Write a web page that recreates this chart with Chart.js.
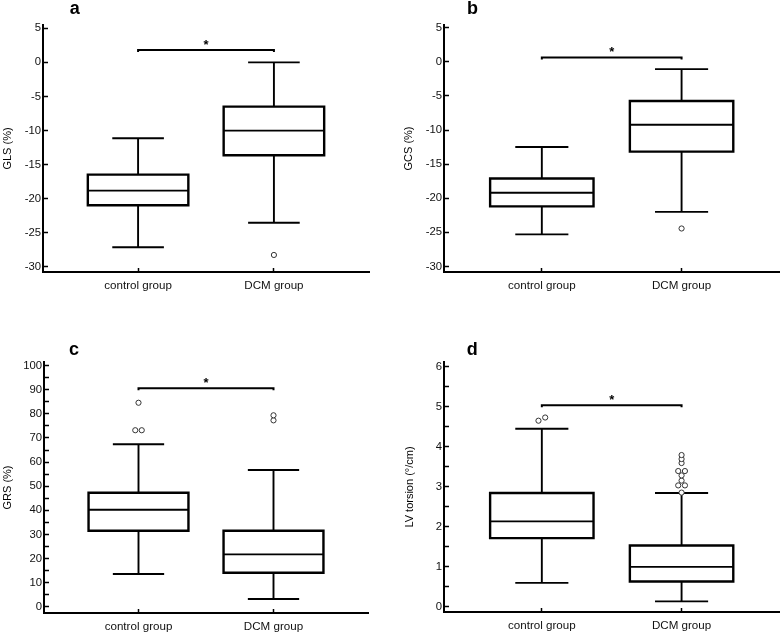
<!DOCTYPE html>
<html>
<head>
<meta charset="utf-8">
<script src="https://cdn.jsdelivr.net/npm/chart.js@4.4.1/dist/chart.umd.min.js"></script>
<style>
body { margin: 0; background: #fff; }
#wrap { position: relative; width: 783px; height: 634px; }
canvas { position: absolute; }
</style>
</head>
<body>
<div id="wrap">
  <canvas id="chartA" width="390" height="310" style="left:0;top:0"></canvas>
  <canvas id="chartB" width="393" height="310" style="left:390px;top:0"></canvas>
  <canvas id="chartC" width="390" height="324" style="left:0;top:310px"></canvas>
  <canvas id="chartD" width="393" height="324" style="left:390px;top:310px"></canvas>
</div>
<script>
"use strict"
const groups = ["control group", "DCM group"];

// box stats: [lower whisker, Q1, median, Q3, upper whisker]
const glsControl = [-27.15, -20.99, -18.84, -16.49, -11.15];
const glsDcm = [-23.54, -13.65, -10.03, -6.51, 0];
const glsOutControl = [];
const glsOutDcm = [-28.28];
const glsBracket = 1.81;
const glsTicks = [-30, -25, -20, -15, -10, -5, 0, 5];
const glsLabels = glsTicks;

const gcsControl = [-25.3, -21.2, -19.2, -17.12, -12.48];
const gcsDcm = [-22.0, -13.17, -9.22, -5.75, -1.07];
const gcsOutControl = [];
const gcsOutDcm = [-24.44];
const gcsBracket = 0.64;
const gcsTicks = [-30, -25, -20, -15, -10, -5, 0, 5];
const gcsLabels = gcsTicks;

const grsControl = [13.6, 31.5, 40.25, 47.3, 67.4];
const grsDcm = [3.2, 14.1, 21.7, 31.5, 56.7];
const grsOutControl = [84.6, 73.2, 73.2];
const grsOutDcm = [79.4, 77.3];
const grsBracket = 90.6;
const grsTicks = [0, 5, 10, 15, 20, 25, 30, 35, 40, 45, 50, 55, 60, 65, 70, 75, 80, 85, 90, 95, 100];
const grsLabels = [0, 10, 20, 30, 40, 50, 60, 70, 80, 90, 100];

const torControl = [0.59, 1.71, 2.13, 2.84, 4.45];
const torDcm = [0.125, 0.625, 0.99, 1.525, 2.84];
const torOutControl = [4.65, 4.73];
const torOutDcm = [3.79, 3.69, 3.59, 3.39, 3.39, 3.28, 3.15, 3.03, 3.03, 2.85];
const torBracket = 5.04;
const torTicks = [0, 0.5, 1, 1.5, 2, 2.5, 3, 3.5, 4, 4.5, 5, 5.5, 6];
const torLabels = [0, 1, 2, 3, 4, 5, 6];

const boxHalf = 0.37;
const capHalf = 0.19;
const dodgeStep = 0.048;
const FONT = '"Liberation Sans", Arial, sans-serif';

Chart.defaults.font.family = FONT;
Chart.defaults.font.size = 11;
Chart.defaults.color = "#1a1a1a";

// spread outliers that would overlap side by side
function dodge(values, center, tol) {
    const sorted = [...values].sort((a, b) => a - b);
    const pts = [];
    let i = 0;
    while (i < sorted.length) {
        let j = i;
        while (j + 1 < sorted.length && sorted[j + 1] - sorted[j] < tol) j++;
        const n = j - i + 1;
        for (let k = 0; k < n; k++) {
            pts.push({x: center + (k - (n - 1) / 2) * dodgeStep, y: sorted[i + k]});
        }
        i = j + 1;
    }
    return pts;
}

function boxSets(stats, x) {
    const [lo, q1, med, q3, hi] = stats;
    const base = {type: "scatter", showLine: true, pointRadius: 0, pointHoverRadius: 0,
        borderColor: "#000", fill: false, borderJoinStyle: "miter", borderCapStyle: "square"};
    return [
        {...base, borderWidth: 2.4, data: [{x: x - boxHalf, y: q1}, {x: x + boxHalf, y: q1},
            {x: x + boxHalf, y: q3}, {x: x - boxHalf, y: q3}, {x: x - boxHalf, y: q1}]},
        {...base, borderWidth: 1.9, borderCapStyle: "butt", data: [{x: x - boxHalf, y: med}, {x: x + boxHalf, y: med}]},
        {...base, borderWidth: 1.9, borderCapStyle: "butt", data: [{x: x, y: q3}, {x: x, y: hi},
            {x: x - capHalf, y: hi}, {x: x + capHalf, y: hi}]},
        {...base, borderWidth: 1.9, borderCapStyle: "butt", data: [{x: x, y: q1}, {x: x, y: lo},
            {x: x - capHalf, y: lo}, {x: x + capHalf, y: lo}]}
    ];
}

const panelText = {
    id: "panelText",
    afterDraw(chart, args, opts) {
        const {ctx} = chart;
        const x = chart.scales.x, y = chart.scales.y;
        ctx.save();
        ctx.fillStyle = "#000";
        ctx.textAlign = "center";
        ctx.textBaseline = "alphabetic";
        ctx.font = "bold 18px " + FONT;
        ctx.fillText(opts.letter, opts.letterX, opts.letterY);
        ctx.font = "bold 13px " + FONT;
        ctx.fillText("*", x.getPixelForValue(0.5), y.getPixelForValue(opts.bracket) - 1);
        ctx.restore();
    }
};

function makeChart(id, p) {
    const outliers = dodge(p.outControl, 0, p.tol).concat(dodge(p.outDcm, 1, p.tol));
    const drop = (p.max - p.min) * 0.008;
    const datasets = [
        {type: "scatter", data: outliers, pointRadius: 2.6, pointHoverRadius: 2.6, pointBorderWidth: 1,
            pointBackgroundColor: "#fff", pointBorderColor: "#333", showLine: false},
        {type: "scatter", showLine: true, pointRadius: 0, borderColor: "#000", borderWidth: 2, borderJoinStyle: "miter",
            data: [{x: 0, y: p.bracket - drop}, {x: 0, y: p.bracket}, {x: 1, y: p.bracket}, {x: 1, y: p.bracket - drop}]}
    ].concat(boxSets(p.control, 0), boxSets(p.dcm, 1));

    return new Chart(document.getElementById(id), {
        type: "scatter",
        data: {datasets: datasets},
        plugins: [panelText],
        options: {
            responsive: false,
            animation: false,
            devicePixelRatio: 1,
            layout: {padding: {left: 0, right: p.padRight, top: p.padTop, bottom: 0}},
            plugins: {
                legend: {display: false},
                tooltip: {enabled: false},
                panelText: {letter: p.letter, letterX: p.letterX, letterY: p.letterY, bracket: p.bracket}
            },
            scales: {
                x: {
                    type: "linear", min: -0.7, max: 1.7,
                    afterBuildTicks: s => { s.ticks = [0, 1].map(v => ({value: v})); },
                    afterFit: s => { s.height = p.xHeight; },
                    ticks: {autoSkip: false, maxRotation: 0, padding: 11, color: "#111", font: {size: 11.6},
                        callback: v => groups[v] || ""},
                    grid: {drawOnChartArea: false, drawTicks: true, tickLength: -4, tickWidth: 1.5, tickColor: "#000"},
                    border: {color: "#000", width: 2}
                },
                y: {
                    type: "linear", min: p.min, max: p.max,
                    afterBuildTicks: s => { s.ticks = p.ticks.map(v => ({value: v})); },
                    afterFit: s => { s.width = p.yWidth; },
                    ticks: {autoSkip: false, padding: 7, color: "#111", font: {size: 11.3},
                        callback: v => p.labels.includes(v) ? String(v) : ""},
                    title: {display: true, text: p.title, color: "#000", padding: {top: p.titlePad, bottom: 0}},
                    grid: {drawOnChartArea: false, drawTicks: true, tickLength: -5, tickWidth: 1.5, tickColor: "#000"},
                    border: {color: "#000", width: 2}
                }
            }
        }
    });
}

makeChart("chartA", {control: glsControl, dcm: glsDcm, outControl: glsOutControl, outDcm: glsOutDcm,
    bracket: glsBracket, ticks: glsTicks, labels: glsLabels, min: -30.78, max: 5.48, title: "GLS (%)",
    yWidth: 43, padRight: 21, padTop: 25, xHeight: 38, titlePad: 1.5, tol: 0.5,
    letter: "a", letterX: 74.7, letterY: 14});

makeChart("chartB", {control: gcsControl, dcm: gcsDcm, outControl: gcsOutControl, outDcm: gcsOutDcm,
    bracket: gcsBracket, ticks: gcsTicks, labels: gcsLabels, min: -30.82, max: 5.4, title: "GCS (%)",
    yWidth: 54, padRight: 3, padTop: 25, xHeight: 38, titlePad: 12.8, tol: 0.5,
    letter: "b", letterX: 82.6, letterY: 14});

makeChart("chartC", {control: grsControl, dcm: grsDcm, outControl: grsOutControl, outDcm: grsOutDcm,
    bracket: grsBracket, ticks: grsTicks, labels: grsLabels, min: -2.6, max: 101.5, title: "GRS (%)",
    yWidth: 44, padRight: 22, padTop: 52, xHeight: 21, titlePad: 1.5, tol: 1.5,
    letter: "c", letterX: 74, letterY: 45});

makeChart("chartD", {control: torControl, dcm: torDcm, outControl: torOutControl, outDcm: torOutDcm,
    bracket: torBracket, ticks: torTicks, labels: torLabels, min: -0.14, max: 6.12, title: "LV torsion (°/cm)",
    yWidth: 54, padRight: 3, padTop: 52, xHeight: 22, titlePad: 13.8, tol: 0.091,
    letter: "d", letterX: 82.3, letterY: 44.5});
</script>
</body>
</html>
